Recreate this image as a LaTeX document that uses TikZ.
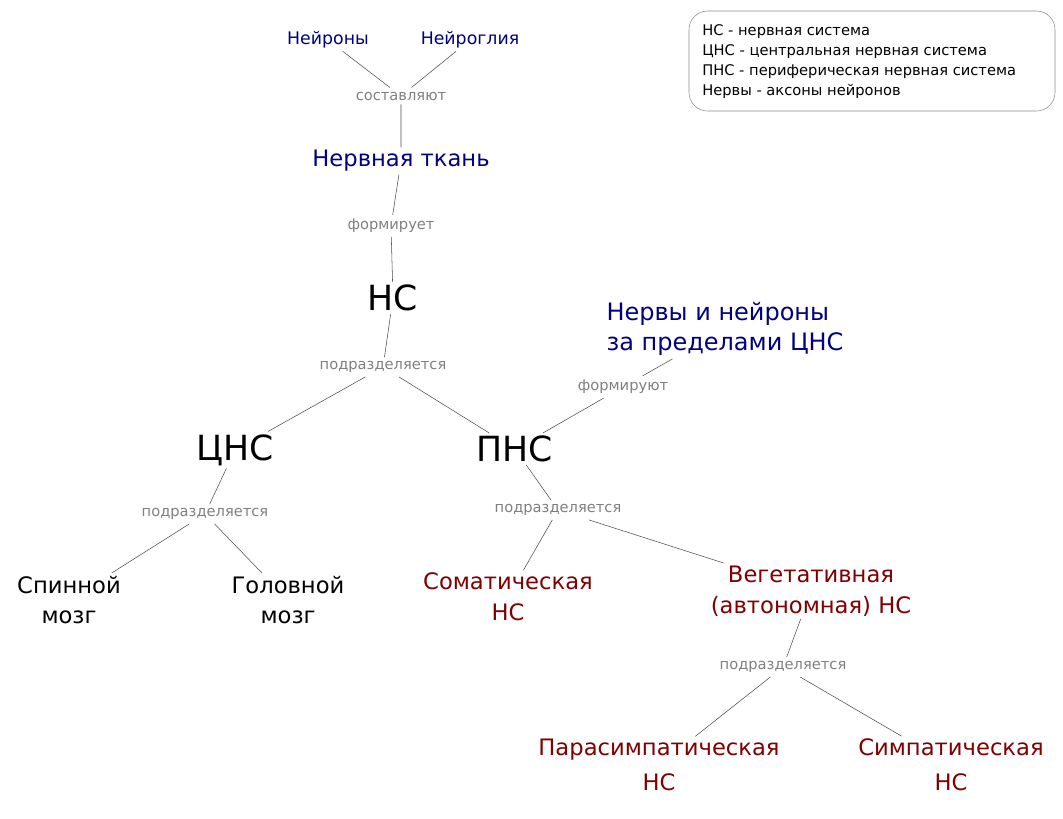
\documentclass[tikz,border=0pt]{standalone}
\usepackage{fontspec}
\setmainfont{DejaVu Sans}
\definecolor{navy}{RGB}{0,0,128}
\definecolor{darkred}{RGB}{128,0,0}
\tikzset{
  concept/.style={align=center, inner sep=2pt},
  blueconcept/.style={concept, text=navy},
  redconcept/.style={concept, text=darkred},
  linkname/.style={text=gray, font=\fontsize{11}{13}\selectfont, inner sep=3pt},
  link/.style={draw=black!70, line width=0.4pt}
}
\begin{document}
\begin{tikzpicture}[x=0.75pt, y=-0.75pt]
  \useasboundingbox (0,0) rectangle (1063,818);
  % upper part
  \node[blueconcept, font=\fontsize{13}{16}\selectfont] (neurons) at (328,40) {Нейроны};
  \node[blueconcept, font=\fontsize{13}{16}\selectfont] (glia) at (470,40) {Нейроглия};
  \node[linkname] (l1) at (401,96) {составляют};
  \node[blueconcept, font=\fontsize{17}{20}\selectfont] (tissue) at (401,161) {Нервная ткань};
  \node[linkname] (l2) at (391,226) {формирует};
  \node[concept, font=\fontsize{26}{30}\selectfont] (ns) at (393,298) {НС};
  \node[linkname] (l3) at (383,367) {подразделяется};
  \node[concept, font=\fontsize{26}{30}\selectfont] (cns) at (235,450) {ЦНС};
  \node[concept, font=\fontsize{26}{30}\selectfont] (pns) at (515,449) {ПНС};
  \node[blueconcept, align=left, font=\fontsize{18}{23}\selectfont] (nerves) at (725,329) {Нервы и нейроны\\за пределами ЦНС};
  \node[linkname] (l4) at (623,387) {формируют};
  % lower part
  \node[linkname] (l5) at (205,514) {подразделяется};
  \node[concept, font=\fontsize{17}{23}\selectfont] (spinal) at (69,600) {Спинной\\мозг};
  \node[concept, font=\fontsize{17}{23}\selectfont] (brain) at (288,600) {Головной\\мозг};
  \node[linkname] (l6) at (558,510) {подразделяется};
  \node[redconcept, font=\fontsize{17}{23}\selectfont] (somatic) at (508,597) {Соматическая\\НС};
  \node[redconcept, font=\fontsize{17}{23}\selectfont] (autonomic) at (811,591) {Вегетативная\\(автономная) НС};
  \node[linkname] (l7) at (783,667) {подразделяется};
  \node[redconcept, font=\fontsize{17}{26}\selectfont] (para) at (659,765) {Парасимпатическая\\НС};
  \node[redconcept, font=\fontsize{17}{26}\selectfont] (symp) at (951,765) {Симпатическая\\НС};
  % legend
  \draw[black!45, rounded corners=14pt] (689,11) rectangle (1055,111);
  \node[anchor=west, align=left, inner sep=0pt, font=\fontsize{11}{15}\selectfont] (legend) at (702,62)
    {НС - нервная система\\ЦНС - центральная нервная система\\ПНС - периферическая нервная система\\Нервы - аксоны нейронов};
  % links
  \draw[link] (neurons) -- (l1) -- (tissue);
  \draw[link] (glia) -- (l1);
  \draw[link] (tissue) -- (l2) -- (ns);
  \draw[link] (ns) -- (l3) -- (cns);
  \draw[link] (l3) -- (pns);
  \draw[link] (nerves) -- (l4) -- (pns);
  \draw[link] (cns) -- (l5) -- (spinal);
  \draw[link] (l5) -- (brain);
  \draw[link] (pns) -- (l6) -- (somatic);
  \draw[link] (l6) -- (autonomic);
  \draw[link] (autonomic) -- (l7) -- (para);
  \draw[link] (l7) -- (symp);
\end{tikzpicture}
\end{document}
